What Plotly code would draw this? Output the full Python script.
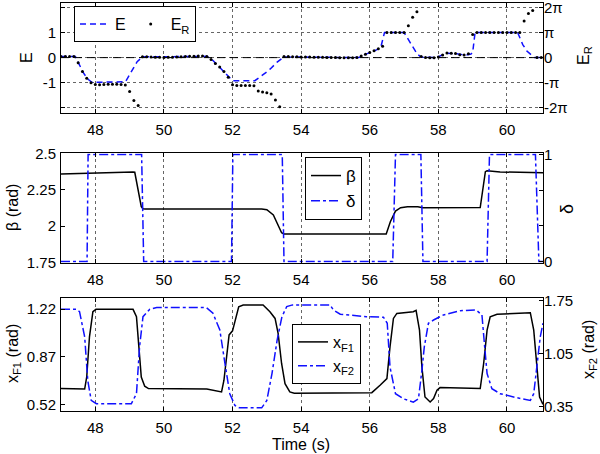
import numpy as np
import plotly.graph_objects as go

# ---------------- data ----------------
x_ticks = [48, 50, 52, 54, 56, 58, 60]

# E_R samples (every 0.125 s from 47 s)
er_t0, er_dt = 47.0, 0.125
er_vals = [
    0.04, 0.04, 0.04, 0.04, -0.2, -0.55, -0.82, -1.0,
    -1.07, -1.08, -1.07, -1.06, -1.06, -1.06, -1.07, -1.09,
    -1.35, -1.7, -1.9, 0.03, 0.03, 0.02, 0.01, 0.01,
    0.0, 0.01, 0.01, 0.02, 0.03, 0.04, 0.05, 0.05,
    0.06, 0.06, 0.04, -0.07, -0.23, -0.37, -0.55, -0.78,
    -1.08, -1.11, -1.11, -1.11, -1.11, -1.12, -1.33, -1.37,
    -1.40, -1.45, -1.68, -1.95, 0.04, 0.04, 0.03, 0.03,
    0.02, 0.02, 0.02, 0.01, 0.01, 0.01, 0.0, 0.0,
    0.0, -0.01, -0.01, -0.01, -0.01, 0.0, 0.06, 0.13,
    0.2, 0.27, 0.35, 0.45, 1.0, 1.0, 1.0, 1.0,
    1.0, 1.27, 1.6, 1.82, 0.04, 0.0, -0.01, -0.01,
    0.02, 0.1, 0.18, 0.17, 0.16, 0.11, 0.1, 0.15,
    0.92, 1.0, 1.0, 1.0, 1.0, 1.0, 1.0, 1.0,
    1.0, 1.0, 1.0, 1.0, 1.45, 1.75, 1.87, 0.0,
    0.0,
]
er_t = er_t0 + er_dt * np.arange(len(er_vals))

e_t = [47.0, 47.42, 47.52, 47.65, 47.78, 47.9, 48.88, 49.0, 49.1, 49.22, 49.38,
       51.25, 51.4, 51.55, 51.75, 51.9, 52.0, 52.65, 52.8, 52.95, 53.1, 53.3, 53.5,
       55.68, 55.87, 56.02, 56.17, 56.32, 56.43, 57.0, 57.09, 57.24, 57.39, 57.5,
       57.95, 58.07, 58.21, 58.5, 58.8, 58.95, 59.0, 59.07, 60.31, 60.46, 60.58,
       60.8, 61.05]
e_vals = [0.04, 0.04, -0.24, -0.6, -0.85, -0.98, -0.96, -0.68, -0.42, -0.16, 0.03,
          0.05, -0.07, -0.28, -0.55, -0.8, -0.915, -0.915, -0.78, -0.62, -0.45, -0.18, 0.03,
          0.0, 0.13, 0.2, 0.29, 0.4, 1.0, 1.0, 0.78, 0.46, 0.13, 0.02,
          0.0, 0.07, 0.17, 0.16, 0.1, 0.14, 0.2, 1.0, 1.0, 0.52, 0.26,
          0.0, 0.0]

beta_t = [47.0, 47.9, 49.1, 49.15, 49.245, 49.34, 49.39, 49.45, 52.85, 53.0, 53.19,
          53.33, 53.43, 53.5, 56.48, 56.6, 56.75, 56.9, 57.1, 57.4, 57.55, 59.22,
          59.3, 59.37, 59.42, 59.8, 61.05]
beta_vals = [2.358, 2.366, 2.372, 2.37, 2.237, 2.134, 2.12, 2.118, 2.118, 2.113, 2.077,
             2.008, 1.955, 1.947, 1.947, 2.031, 2.104, 2.127, 2.134, 2.134, 2.127, 2.128,
             2.26, 2.374, 2.38, 2.372, 2.367]

delta_t = [47.0, 47.76, 47.79, 49.35, 49.41, 51.97, 52.01, 53.45, 53.5, 56.67, 56.75,
           57.49, 57.55, 59.42, 59.49, 60.83, 60.93, 61.05]
delta_vals = [0, 0, 1, 1, 0, 0, 1, 1, 0, 0, 1, 1, 0, 0, 1, 1, 0, 0]

xf1_t = [47.0, 47.6, 47.69, 47.75, 47.83, 47.93, 48.02, 49.1, 49.2, 49.27, 49.34,
         49.44, 49.55, 51.25, 51.68, 51.75, 51.83, 51.9, 52.0, 52.08, 52.18, 52.31,
         52.89, 53.09, 53.24, 53.33, 53.43, 53.53, 53.67, 53.8, 56.06, 56.3, 56.5,
         56.59, 56.69, 56.79, 57.27, 57.35, 57.45, 57.52, 57.61, 57.76, 57.86, 57.96,
         58.05, 59.22, 59.32, 59.42, 59.51, 59.71, 60.68, 60.78, 60.88, 60.95, 61.05]
xf1_vals = [0.636, 0.629, 0.632, 0.721, 1.016, 1.2, 1.218, 1.218, 1.163, 0.942, 0.721,
            0.653, 0.636, 0.633, 0.611, 0.697, 0.894, 1.03, 1.06, 1.14, 1.237, 1.25,
            1.25, 1.2, 1.151, 1.04, 0.82, 0.672, 0.611, 0.602, 0.606, 0.66, 0.709,
            0.942, 1.151, 1.188, 1.2, 1.21, 1.065, 0.795, 0.574, 0.537, 0.562, 0.623,
            0.643, 0.636, 0.82, 1.065, 1.163, 1.181, 1.193, 1.065, 0.77, 0.574, 0.52]

xf2_t = [47.0, 47.44, 47.54, 47.69, 47.78, 47.88, 48.03, 49.05, 49.2, 49.29, 49.39,
         49.59, 49.79, 51.24, 51.43, 51.63, 51.78, 51.92, 52.07, 52.2, 52.85, 53.0,
         53.15, 53.3, 53.44, 53.58, 53.75, 54.84, 54.94, 55.14, 55.9, 56.4, 56.51,
         56.59, 56.75, 56.98, 57.27, 57.42, 57.52, 57.59, 57.71, 57.86, 58.15, 58.64,
         59.1, 59.27, 59.35, 59.42, 59.56, 59.8, 60.29, 60.68, 60.78, 60.88, 60.97, 61.05]
xf2_vals = [1.636, 1.636, 1.604, 1.271, 0.695, 0.43, 0.386, 0.386, 0.519, 1.138, 1.537,
            1.636, 1.657, 1.657, 1.582, 1.36, 0.917, 0.519, 0.363, 0.332, 0.332, 0.43,
            0.785, 1.227, 1.537, 1.67, 1.693, 1.693, 1.626, 1.569, 1.537, 1.53, 1.45,
            0.872, 0.519, 0.452, 0.407, 0.452, 0.828, 1.138, 1.45, 1.493, 1.56, 1.617,
            1.626, 1.56, 1.138, 0.785, 0.585, 0.519, 0.465, 0.43, 0.519, 0.917, 1.271, 1.45]

top_left_ticks = [-2, -1, 0, 1, 2]
top_left_text = ["", "-1", "0", "1", ""]
top_right_text = ["-2π", "-π", "0", "π", "2π"]
mid_left_ticks = [1.75, 2, 2.25, 2.5]
mid_left_text = ["1.75", "2", "2.25", "2.5"]
mid_right_ticks = [0, 1/3, 2/3, 1]
mid_right_text = ["0", "", "", "1"]
bot_left_ticks = [0.52, 0.87, 1.22]
bot_right_ticks = [0.35, 1.05, 1.75]

# ---------------- figure ----------------
BLUE = "#1010ff"
FONT = "Arial, Liberation Sans, sans-serif"
W, H = 600, 454
ML, MR, MT, MB = 61, 57, 3, 43
PW, PH = W - ML - MR, H - MT - MB
TF = 15  # tick font size


def px_x(px):
    return (px - ML) / PW


def px_y(py):
    return (H - MB - py) / PH


fig = go.Figure()

fig.add_trace(go.Scatter(x=e_t, y=e_vals, mode="lines", name="E",
                         line=dict(color=BLUE, width=1.5, dash="6px,4px"),
                         xaxis="x", yaxis="y", legend="legend"))
fig.add_trace(go.Scatter(x=er_t, y=er_vals, mode="markers", name="E<sub>R</sub>",
                         marker=dict(color="black", size=3),
                         xaxis="x", yaxis="y2", legend="legend"))

fig.add_trace(go.Scatter(x=beta_t, y=beta_vals, mode="lines", name="β",
                         line=dict(color="black", width=1.5),
                         xaxis="x2", yaxis="y3", legend="legend2"))
fig.add_trace(go.Scatter(x=delta_t, y=delta_vals, mode="lines", name="δ",
                         line=dict(color=BLUE, width=1.5, dash="dashdot"),
                         xaxis="x2", yaxis="y4", legend="legend2"))

fig.add_trace(go.Scatter(x=xf1_t, y=xf1_vals, mode="lines", name="x<sub>F1</sub>",
                         line=dict(color="black", width=1.5),
                         xaxis="x3", yaxis="y5", legend="legend3"))
fig.add_trace(go.Scatter(x=xf2_t, y=xf2_vals, mode="lines", name="x<sub>F2</sub>",
                         line=dict(color=BLUE, width=1.5, dash="dashdot"),
                         xaxis="x3", yaxis="y6", legend="legend3"))

fig.add_hline(y=0, line=dict(color="black", width=1, dash="8px,5px"), xref="x", yref="y")

XR = [47, 61.05]
GRID = "#666"
xcommon = dict(range=XR, tickvals=x_ticks, showline=True, linecolor="black", linewidth=1,
               mirror="ticks", ticks="inside", ticklen=4, tickcolor="black",
               showgrid=True, gridcolor=GRID, griddash="dot", gridwidth=1,
               zeroline=False, automargin=False, ticklabelstandoff=3,
               tickfont=dict(size=TF, color="black"))
ycommon = dict(showline=True, linecolor="black", linewidth=1, mirror=True,
               ticks="inside", ticklen=4, tickcolor="black", zeroline=False,
               automargin=False, ticklabelstandoff=1,
               tickfont=dict(size=TF, color="black"))
yright = dict(side="right", showline=False, ticks="inside", ticklen=4,
              tickcolor="black", zeroline=False, showgrid=False, automargin=False,
              ticklabelstandoff=0, ticklabeloverflow="allow",
              tickfont=dict(size=TF, color="black"))

D_TOP = [px_y(113), 1.0]
D_MID = [px_y(262.7), px_y(153.3)]
D_BOT = [0.0, px_y(298.3)]
YR_TOP = [-2.2, 2.17]

# axis titles as rotated text, placed like the reference
titles = [
    ("E", 27, 58, 16),
    ("β (rad)", 12, 208, 16),
    ("x<sub>F1</sub> (rad)", 13, 354, 16),
    ("E<sub>R</sub>", 585, 56, 16),
    ("δ", 567, 209, 18),
    ("x<sub>F2</sub> (rad)", 589, 350, 16),
]
annotations = [dict(text=t, x=px_x(xp), y=px_y(yp), xref="paper", yref="paper",
                    textangle=-90, showarrow=False, xanchor="center", yanchor="middle",
                    font=dict(size=s, color="black", family=FONT))
               for t, xp, yp, s in titles]
annotations.append(dict(text="Time (s)", x=px_x(301), y=px_y(444), xref="paper",
                        yref="paper", showarrow=False, xanchor="center",
                        yanchor="middle", font=dict(size=16, color="black", family=FONT)))

fig.update_layout(
    template="none",
    width=W, height=H,
    margin=dict(l=ML, r=MR, t=MT, b=MB),
    paper_bgcolor="white", plot_bgcolor="white",
    font=dict(family=FONT, size=14, color="black"),
    xaxis=dict(xcommon, anchor="y"),
    xaxis2=dict(xcommon, anchor="y3"),
    xaxis3=dict(xcommon, anchor="y5"),
    yaxis=dict(ycommon, domain=D_TOP, range=YR_TOP, tickvals=top_left_ticks,
               ticktext=top_left_text, showgrid=True, gridcolor=GRID, griddash="dot"),
    yaxis2=dict(yright, overlaying="y", anchor="x", range=YR_TOP, tickvals=top_left_ticks,
                ticktext=top_right_text),
    yaxis3=dict(ycommon, domain=D_MID, anchor="x2", range=[1.75, 2.5],
                tickvals=mid_left_ticks, ticktext=mid_left_text, showgrid=False),
    yaxis4=dict(yright, overlaying="y3", anchor="x2", range=[-0.012, 1.012],
                tickvals=mid_right_ticks, ticktext=mid_right_text),
    yaxis5=dict(ycommon, domain=D_BOT, anchor="x3", range=[0.471, 1.299],
                tickvals=bot_left_ticks, showgrid=False),
    yaxis6=dict(yright, overlaying="y5", anchor="x3", range=[0.29, 1.78],
                tickvals=bot_right_ticks, tickformat=".2f"),
    annotations=annotations,
    legend=dict(orientation="h", x=px_x(74), y=px_y(6), xanchor="left", yanchor="top",
                bgcolor="white", bordercolor="black", borderwidth=1,
                font=dict(size=16), itemwidth=30),
    legend2=dict(x=px_x(305), y=px_y(157), xanchor="left", yanchor="top",
                 bgcolor="white", bordercolor="black", borderwidth=1,
                 font=dict(size=17)),
    legend3=dict(x=px_x(292), y=px_y(324), xanchor="left", yanchor="top",
                 bgcolor="white", bordercolor="black", borderwidth=1,
                 font=dict(size=16)),
)

fig.write_html("out.html", config={"displayModeBar": False},
               post_script="document.body.style.margin='0';document.body.style.padding='0';")
